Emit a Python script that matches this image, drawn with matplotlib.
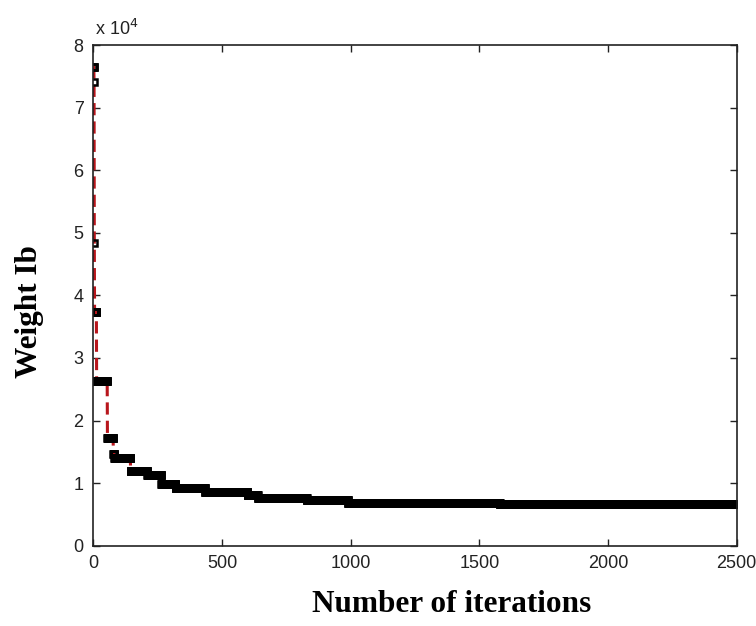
import matplotlib
matplotlib.use('Agg')
import matplotlib.pyplot as plt
from matplotlib.ticker import FuncFormatter
import numpy as np

# best weight found so far: iteration where each level starts, and its value (lb)
paso_inicio = [0, 3, 4, 5, 13, 55, 78, 82, 145, 210, 265, 320, 435, 600, 640, 830, 990, 1580]
paso_peso = [76500, 74100, 48400, 37300, 26300, 17200, 14700, 14000, 11900, 11300,
             9850, 9200, 8500, 8100, 7600, 7300, 6900, 6650]
n_iter = 2500

# build the per-iteration curve from the step levels
fin = paso_inicio[1:] + [n_iter + 1]
reps = [b - a for a, b in zip(paso_inicio, fin)]
iteraciones = np.arange(0, n_iter + 1)
peso = np.repeat(paso_peso, reps)

fig = plt.figure(figsize=(7.56, 6.26), dpi=100)
ax = fig.add_axes([0.1234, 0.1283, 0.851, 0.7998])

ax.plot(iteraciones, peso, '--', color='#b8161c', linewidth=2.2, dashes=(4, 2),
        marker='s', markersize=5, markerfacecolor='none',
        markeredgecolor='black', markeredgewidth=1.8)

ax.set_xlim(0, 2500)
ax.set_ylim(0, 80000)
ax.set_xticks(np.arange(0, 2501, 500))
ax.set_yticks(np.arange(0, 80001, 10000))
ax.yaxis.set_major_formatter(FuncFormatter(lambda v, p: '%d' % round(v / 1e4)))

ax.tick_params(direction='in', top=True, right=True, length=5, width=1,
               labelsize=13, colors='#222222', pad=7)
for lbl in ax.get_xticklabels() + ax.get_yticklabels():
    lbl.set_family('Liberation Sans')
for s in ax.spines.values():
    s.set_linewidth(1.2)
    s.set_color('#222222')

ax.text(0.003, 1.012, r'x 10$^4$', transform=ax.transAxes, fontsize=13,
        color='#222222', family='Liberation Sans', ha='left', va='bottom')

fig.text(452 / 756, 1 - 604 / 626, 'Number of iterations', family='Liberation Serif',
         fontweight='bold', fontsize=22.5, ha='center', va='center')
fig.text(29 / 756, 1 - 312 / 626, 'Weight Ib', family='Liberation Serif',
         fontweight='bold', fontsize=22.5, ha='center', va='center', rotation=90)

plt.savefig('out.png', dpi=100)
